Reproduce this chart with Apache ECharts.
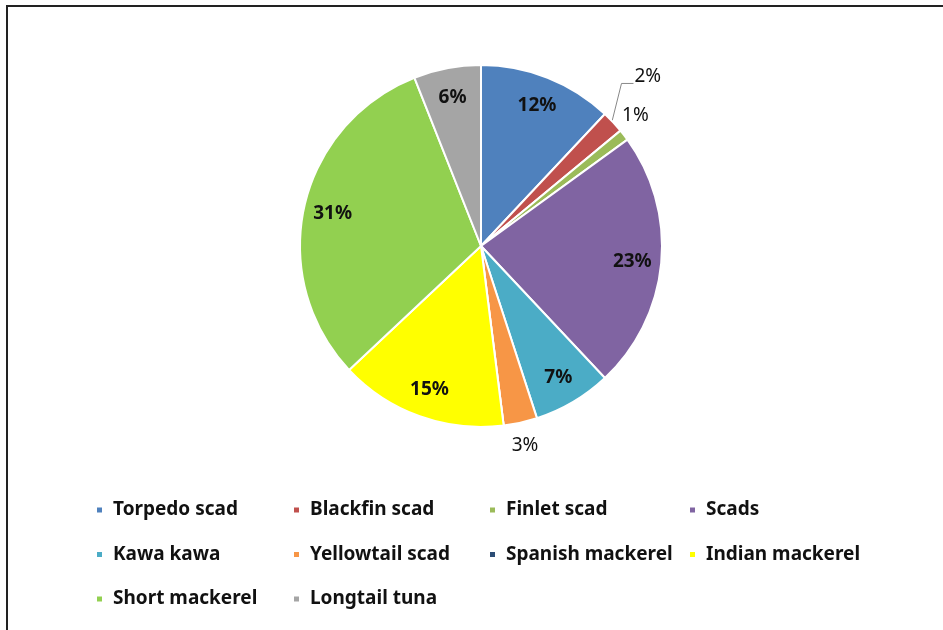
<!DOCTYPE html>
<html>
<head>
<meta charset="utf-8">
<title>Catch composition by species</title>
<script src="https://cdn.jsdelivr.net/npm/echarts@6/dist/echarts.min.js"></script>
<style>
  html, body { margin: 0; padding: 0; background: #fff; }
  #chart { width: 943px; height: 630px; }
</style>
</head>
<body>
<div id="chart"></div>
<script>
// Species and their share of the catch (%)
const categories = ['Torpedo scad', 'Blackfin scad', 'Finlet scad', 'Scads', 'Kawa kawa',
  'Yellowtail scad', 'Spanish mackerel', 'Indian mackerel', 'Short mackerel', 'Longtail tuna'];
const shares = [12, 2, 1, 23, 7, 3, 0, 15, 31, 6];
const colors = ['#4F81BD', '#C0504D', '#9BBB59', '#8064A2', '#4BACC6',
  '#F79646', '#2C4D75', '#FFFF00', '#92D050', '#A5A5A5'];

// Pie geometry
const CX = 481, CY = 246, R = 181;
const LABEL_R = 152;          // radius at which inside labels sit
const SMALL = 5;              // slices below this share get outside labels
const FONT = 'Noto Sans';

const total = shares.reduce((a, b) => a + b, 0);
// mid-angle (radians, clockwise from 12 o'clock) of each slice
const midAngles = [];
{
  let acc = 0;
  shares.forEach(v => {
    midAngles.push(((acc + v / 2) / total) * Math.PI * 2);
    acc += v;
  });
}
const edgePoint = (i, r) => [CX + r * Math.sin(midAngles[i]), CY - r * Math.cos(midAngles[i])];

const data = categories.map((name, i) => {
  const small = shares[i] < SMALL;
  return {
    name,
    value: shares[i],
    itemStyle: { color: colors[i] },
    label: {
      show: shares[i] > 0,
      position: small ? 'outside' : 'inside',
      fontWeight: small ? 'normal' : 'bold'
    },
    labelLine: { show: small && i === 1 }
  };
});

const chart = echarts.init(document.getElementById('chart'), null, { renderer: 'canvas' });

// legend laid out in four fixed columns
const colLeft = [95, 292, 488, 688];
const legends = colLeft.map((left, c) => ({
  data: categories.filter((_, i) => i % 4 === c),
  left,
  top: 500,
  padding: 0,
  orient: 'vertical',
  icon: 'rect',
  itemWidth: 7,
  itemHeight: 7,
  itemGap: 24.5,
  selectedMode: false,
  textStyle: {
    fontFamily: FONT,
    fontSize: 19,
    fontWeight: 'bold',
    color: '#111',
    lineHeight: 20,
    padding: [0, 0, 0, 5]
  }
}));

chart.setOption({
  backgroundColor: '#fff',
  animation: false,
  legend: legends,
  graphic: [{
    type: 'polyline',
    shape: { points: [[7, 630], [7, 6], [943, 6]] },
    style: { stroke: '#222', lineWidth: 2, fill: null },
    silent: true
  }],
  series: [{
    type: 'pie',
    center: [CX, CY],
    radius: [0, R],
    startAngle: 90,
    clockwise: true,
    avoidLabelOverlap: false,
    data,
    itemStyle: { borderColor: '#fff', borderWidth: 2 },
    label: {
      fontFamily: FONT,
      fontSize: 19,
      color: '#111',
      formatter: p => Math.round(p.percent) + '%'
    },
    labelLine: {
      lineStyle: { color: '#888', width: 1 }
    },
    labelLayout: params => {
      const i = params.dataIndex;
      if (shares[i] >= SMALL) {
        const [x, y] = edgePoint(i, LABEL_R);
        return { x, y: y + 1, align: 'center', verticalAlign: 'middle' };
      }
      const p0 = edgePoint(i, R - 2);
      if (i === 1) {
        const p1 = [p0[0] + 10, p0[1] - 40];
        const p2 = [p1[0] + 12, p1[1]];
        return {
          x: p2[0] + 1, y: p2[1] - 7, align: 'left', verticalAlign: 'middle',
          labelLinePoints: [p0, p1, p2]
        };
      }
      if (i === 2) {
        return { x: p0[0] + 13, y: p0[1] - 21, align: 'center', verticalAlign: 'middle' };
      }
      return { x: p0[0] + 5, y: p0[1] + 25, align: 'center', verticalAlign: 'middle' };
    }
  }]
});
</script>
</body>
</html>
